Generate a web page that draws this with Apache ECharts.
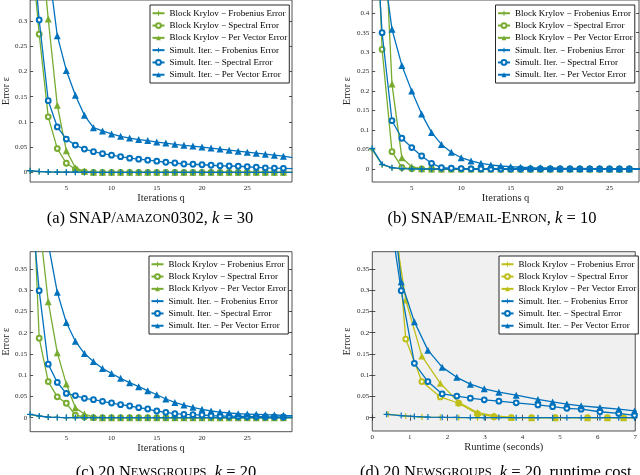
<!DOCTYPE html>
<html><head><meta charset="utf-8">
<script src="https://cdn.jsdelivr.net/npm/echarts@6/dist/echarts.min.js"></script>
<style>
html,body{margin:0;padding:0;background:#fff;width:640px;height:475px;overflow:hidden}
.c{position:absolute;left:0;top:0;width:640px;height:475px}
</style></head>
<body>
<div id="pa" class="c"></div>
<div id="pb" class="c"></div>
<div id="pc" class="c"></div>
<div id="pd" class="c"></div>
<script>
// ---------- Panel (a): SNAP/amazon0302, k = 30 ----------
const qA = [1,2,3,4,5,6,7,8,9,10,11,12,13,14,15,16,17,18,19,20,21,22,23,24,25,26,27,28,29,30];
const aBKFro  = [0.0030,0.0014,0.0007,0.0004,0.0002,0.0001,0.0001,0,0,0,0,0,0,0,0,0,0,0,0,0,0,0,0,0,0,0,0,0,0,0];
const aBKSpec = [0.47,0.274,0.110,0.047,0.018,0.006,0.001,0,0,0,0,0,0,0,0,0,0,0,0,0,0,0,0,0,0,0,0,0,0,0];
const aBKPV   = [0.80,0.494,0.304,0.133,0.043,0.009,0.002,0,0,0,0,0,0,0,0,0,0,0,0,0,0,0,0,0,0,0,0,0,0,0];
const aSIFro  = [0.0033,0.0016,0.0008,0.0005,0.0003,0.0002,0.0001,0,0,0,0,0,0,0,0,0,0,0,0,0,0,0,0,0,0,0,0,0,0,0];
const aSISpec = [0.50,0.302,0.142,0.090,0.066,0.054,0.046,0.041,0.037,0.034,0.031,0.028,0.026,0.024,0.022,0.020,0.0185,0.0165,0.016,0.015,0.014,0.013,0.0125,0.012,0.011,0.010,0.009,0.0085,0.008,0.0075];
const aSIPV   = [0.90,0.60,0.41,0.271,0.202,0.153,0.113,0.0886,0.082,0.076,0.0714,0.068,0.065,0.063,0.060,0.058,0.0555,0.0535,0.052,0.050,0.048,0.046,0.044,0.042,0.040,0.038,0.036,0.034,0.032,0.029];

// ---------- Panel (b): SNAP/email-Enron, k = 10 ----------
const qB = [1,2,3,4,5,6,7,8,9,10,11,12,13,14,15,16,17,18,19,20,21,22,23,24,25,26,27,28,29];
const bBKFro  = [0.050,0.011,0.003,0.001,0.0003,0,0,0,0,0,0,0,0,0,0,0,0,0,0,0,0,0,0,0,0,0,0,0,0];
const bBKSpec = [0.94,0.307,0.0445,0.004,0.0005,0,0,0,0,0,0,0,0,0,0,0,0,0,0,0,0,0,0,0,0,0,0,0,0];
const bBKPV   = [1.30,0.758,0.218,0.029,0.006,0.0005,0,0,0,0,0,0,0,0,0,0,0,0,0,0,0,0,0,0,0,0,0,0,0];
const bSIFro  = [0.053,0.012,0.0035,0.001,0.0005,0,0,0,0,0,0,0,0,0,0,0,0,0,0,0,0,0,0,0,0,0,0,0,0];
const bSISpec = [0.77,0.350,0.124,0.079,0.055,0.0334,0.0146,0.0034,0.002,0.001,0.0005,0.0003,0,0,0,0,0,0,0,0,0,0,0,0,0,0,0,0,0];
const bSIPV   = [0.80,0.547,0.359,0.266,0.200,0.141,0.094,0.063,0.043,0.029,0.0206,0.0146,0.0103,0.0077,0.006,0.0045,0.0035,0.003,0.0025,0.002,0.0018,0.0015,0.0012,0.001,0.0009,0.0008,0.0007,0.0006,0.0005];

// ---------- Panel (c): 20 Newsgroups, k = 20 ----------
const qC = [1,2,3,4,5,6,7,8,9,10,11,12,13,14,15,16,17,18,19,20,21,22,23,24,25,26,27,28,29,30];
const cBKFro  = [0.0075,0.0035,0.0012,0.0005,0.0002,0.0001,0,0,0,0,0,0,0,0,0,0,0,0,0,0,0,0,0,0,0,0,0,0,0,0];
const cBKSpec = [0.70,0.187,0.085,0.049,0.034,0.006,0.0016,0,0,0,0,0,0,0,0,0,0,0,0,0,0,0,0,0,0,0,0,0,0,0];
const cBKPV   = [0.90,0.463,0.273,0.153,0.079,0.0235,0.0086,0.0016,0,0,0,0,0,0,0,0,0,0,0,0,0,0,0,0,0,0,0,0,0,0];
const cSIFro  = [0.0078,0.0040,0.0015,0.0006,0.0003,0.0002,0.0001,0,0,0,0,0,0,0,0,0,0,0,0,0,0,0,0,0,0,0,0,0,0,0];
const cSISpec = [0.53,0.299,0.126,0.083,0.057,0.052,0.0455,0.0424,0.0385,0.0345,0.0306,0.0275,0.0235,0.0204,0.0157,0.0126,0.0094,0.0078,0.007,0.0063,0.0047,0.004,0.0035,0.003,0.0028,0.0025,0.0022,0.002,0.0018,0.0016];
const cSIPV   = [0.80,0.60,0.41,0.295,0.224,0.18,0.151,0.132,0.116,0.104,0.0926,0.0824,0.073,0.0636,0.054,0.044,0.036,0.0298,0.0243,0.0196,0.0157,0.0133,0.011,0.0094,0.0086,0.0078,0.007,0.0063,0.0055,0.005];

// ---------- Panel (d): 20 Newsgroups, k = 20, runtime cost ----------
const dBKTime = [0.42,0.89,1.32,1.81,2.30,2.80,3.24,3.70,4.24,4.87,5.73,6.26,6.69,7.20];
const dBKFro  = [0.008,0.004,0.0015,0.0006,0.0003,0.0001,0,0,0,0,0,0,0,0];
const dBKSpec = [0.70,0.185,0.085,0.049,0.034,0.0087,0.0025,0,0,0,0,0,0,0];
const dBKPV   = [0.55,0.277,0.145,0.081,0.036,0.012,0.0047,0.001,0,0,0,0,0,0];
const dSITime = [0.38,0.77,1.12,1.48,1.86,2.25,2.61,2.98,3.37,3.83,4.41,4.80,5.18,5.56,6.06,6.56,6.98,7.40];
const dSIFro  = [0.008,0.005,0.0028,0.0015,0.001,0.0006,0.0004,0.0003,0.0002,0.0001,0.0001,0,0,0,0,0,0,0];
const dSISpec = [0.53,0.299,0.128,0.085,0.056,0.051,0.046,0.042,0.039,0.035,0.030,0.026,0.022,0.020,0.014,0.010,0.0056,0.003];
const dSIPV   = [0.63,0.320,0.226,0.159,0.119,0.095,0.079,0.068,0.060,0.053,0.043,0.037,0.032,0.028,0.024,0.020,0.016,0.012];

// ---------- labels ----------
const namesStd = ['Block Krylov − Frobenius Error','Block Krylov − Spectral Error','Block Krylov − Per Vector Error',
                  'Simult. Iter. − Frobenius Error','Simult. Iter. − Spectral Error','Simult. Iter. − Per Vector Error'];
const namesC   = ['Block Krylov − Frobenius Error','Block Krylov − Spectral Error','Block Krlyov − Per Vector Error',
                  'Simult. Iter. − Frobenius Error','Simult. Iter. − Spectral Error','Simult. Iter. − Per Vector Error'];
const xTicksIter = [5,10,15,20,25];
const xTicksTime = [0,1,2,3,4,5,6,7];
const yTicks030 = [0,0.05,0.1,0.15,0.2,0.25,0.3];
const yTicks040 = [0,0.05,0.1,0.15,0.2,0.25,0.3,0.35,0.4];
const yTicks035 = [0,0.05,0.1,0.15,0.2,0.25,0.3,0.35];
const yName = 'Error ε';

const SERIF = 'Liberation Serif';
const GREEN = '#77ac30', BLUE = '#0072bd', YELLOW = '#bfbf19';
const PLUS = 'path://M4,0h2v4h4v2h-4v4h-2v-4h-4v-2h4z';

function zip(xs, ys){ return xs.map((x,i)=>[x, ys[i]]); }

function series(names, c1, c2, x1, ys1, x2, ys2){
  const syms = [PLUS,'emptyCircle','triangle'];
  const sizes = [6,4.8,7];
  const out = [];
  for (let k=0;k<3;k++){
    out.push({name:names[k], type:'line', data:zip(x1, ys1[k]), symbol:syms[k], symbolSize:sizes[k],
      lineStyle:{color:c1,width:1.3}, itemStyle:{color:c1, borderColor:c1, borderWidth:k===1?1.1:0},
      clip:true, animation:false, z:2});
  }
  for (let k=0;k<3;k++){
    out.push({name:names[k+3], type:'line', data:zip(x2, ys2[k]), symbol:syms[k], symbolSize:sizes[k],
      lineStyle:{color:c2,width:1.3}, itemStyle:{color:c2, borderColor:c2, borderWidth:k===1?1.1:0},
      clip:true, animation:false, z:3});
  }
  return out;
}

function panel(id, cfg){
  const chart = echarts.init(document.getElementById(id), null, {renderer:'canvas'});
  const g = cfg.grid;
  const tickStyle = {lineStyle:{color:'#262626',width:0.8}, inside:true, length:3};
  chart.setOption({
    backgroundColor:'transparent',
    animation:false,
    grid:{left:g[0], top:g[1], width:g[2], height:g[3], show:true, borderColor:'#262626', borderWidth:0.8,
          backgroundColor:cfg.bg || 'transparent', containLabel:false},
    xAxis:[
      {type:'value', min:cfg.xmin, max:cfg.xmax, position:'bottom',
       name:cfg.xName, nameLocation:'middle', nameGap:cfg.xNameGap,
       nameTextStyle:{fontFamily:SERIF, fontSize:10.5, color:'#262626'},
       axisLine:{show:false}, splitLine:{show:false},
       axisTick:Object.assign({customValues:cfg.xTicks}, tickStyle),
       axisLabel:{customValues:cfg.xTicks, fontFamily:SERIF, fontSize:7, color:'#262626', margin:3}},
      {type:'value', min:cfg.xmin, max:cfg.xmax, position:'top',
       axisLine:{show:false}, splitLine:{show:false}, axisLabel:{show:false},
       axisTick:Object.assign({customValues:cfg.xTicks}, tickStyle)}
    ],
    yAxis:[
      {type:'value', min:cfg.ymin, max:cfg.ymax, position:'left',
       name:yName, nameLocation:'middle', nameGap:cfg.yNameGap,
       nameTextStyle:{fontFamily:SERIF, fontSize:10, color:'#262626'},
       axisLine:{show:false}, splitLine:{show:false},
       axisTick:Object.assign({customValues:cfg.yTicks}, tickStyle),
       axisLabel:{customValues:cfg.yTicks, fontFamily:SERIF, fontSize:7, color:'#262626', margin:3}},
      {type:'value', min:cfg.ymin, max:cfg.ymax, position:'right',
       axisLine:{show:false}, splitLine:{show:false}, axisLabel:{show:false},
       axisTick:Object.assign({customValues:cfg.yTicks}, tickStyle)}
    ],
    legend:{orient:'vertical', left:cfg.legend[0], top:cfg.legend[1], itemWidth:12, itemHeight:6, itemGap:0.8,
      padding:[2.5,2,2.5,1.5], borderColor:'#262626', borderWidth:1, backgroundColor:'#fff',
      selectedMode:false, data:cfg.names,
      textStyle:{fontFamily:SERIF, fontSize:9, lineHeight:11.5, color:'#000'}},
    graphic:[{type:'text', x:cfg.cap[0], y:cfg.cap[1],
      style:{text:cfg.capText, align:cfg.capAlign || 'center', verticalAlign:'middle', fill:'#000',
        fontFamily:SERIF, fontSize:16.5,
        rich:{n:{fontFamily:SERIF, fontSize:16.5, fill:'#000'},
              s:{fontFamily:SERIF, fontSize:12.5, fill:'#000'},
              i:{fontFamily:SERIF, fontSize:16.5, fontStyle:'italic', fill:'#000'}}}}],
    series:cfg.series
  });
}

panel('pa', {grid:[24.5,0,267.5,182], xmin:1, xmax:29.95, ymin:-0.0192, ymax:0.3417,
  xTicks:xTicksIter, yTicks:yTicks030, xName:'Iterations q', xNameGap:9, yNameGap:16,
  legend:[150,5], names:namesStd, cap:[150,219],
  capText:'{n|(a) SNAP/}{s|AMAZON}{n|0302, }{i|k}{n| = 30}',
  series:series(namesStd, GREEN, BLUE, qA, [aBKFro,aBKSpec,aBKPV], qA, [aSIFro,aSISpec,aSIPV])});

panel('pb', {grid:[372.2,0,266.8,182], xmin:1, xmax:27.98, ymin:-0.0334, ymax:0.434,
  xTicks:xTicksIter, yTicks:yTicks040, xName:'Iterations q', xNameGap:9, yNameGap:20,
  legend:[495.5,5], names:namesStd, cap:[492,219],
  capText:'{n|(b) SNAP/}{s|EMAIL-}{n|E}{s|NRON}{n|, }{i|k}{n| = 10}',
  series:series(namesStd, GREEN, BLUE, qB, [bBKFro,bBKSpec,bBKPV], qB, [bSIFro,bSISpec,bSIPV])});

panel('pc', {grid:[24.5,251.7,267.5,180], xmin:1, xmax:29.95, ymin:-0.033, ymax:0.3907,
  xTicks:xTicksIter, yTicks:yTicks035, xName:'Iterations q', xNameGap:9, yNameGap:18,
  legend:[149,256], names:namesC, cap:[166,473],
  capText:'{n|(c) 20 N}{s|EWSGROUPS}{n|, }{i|k}{n| = 20}',
  series:series(namesC, GREEN, BLUE, qC, [cBKFro,cBKSpec,cBKPV], qC, [cSIFro,cSISpec,cSIPV])});

panel('pd', {grid:[372.3,251.7,265,179.3], xmin:0, xmax:7, ymin:-0.0313, ymax:0.3907, bg:'#f0f0f0',
  xTicks:xTicksTime, yTicks:yTicks035, xName:'Runtime (seconds)', xNameGap:9, yNameGap:20,
  legend:[499,256], names:namesStd, cap:[360,473], capAlign:'left',
  capText:'{n|(d) 20 N}{s|EWSGROUPS}{n|, }{i|k}{n| = 20, runtime cost}',
  series:series(namesStd, YELLOW, BLUE, dBKTime, [dBKFro,dBKSpec,dBKPV], dSITime, [dSIFro,dSISpec,dSIPV])});
</script>
</body></html>
